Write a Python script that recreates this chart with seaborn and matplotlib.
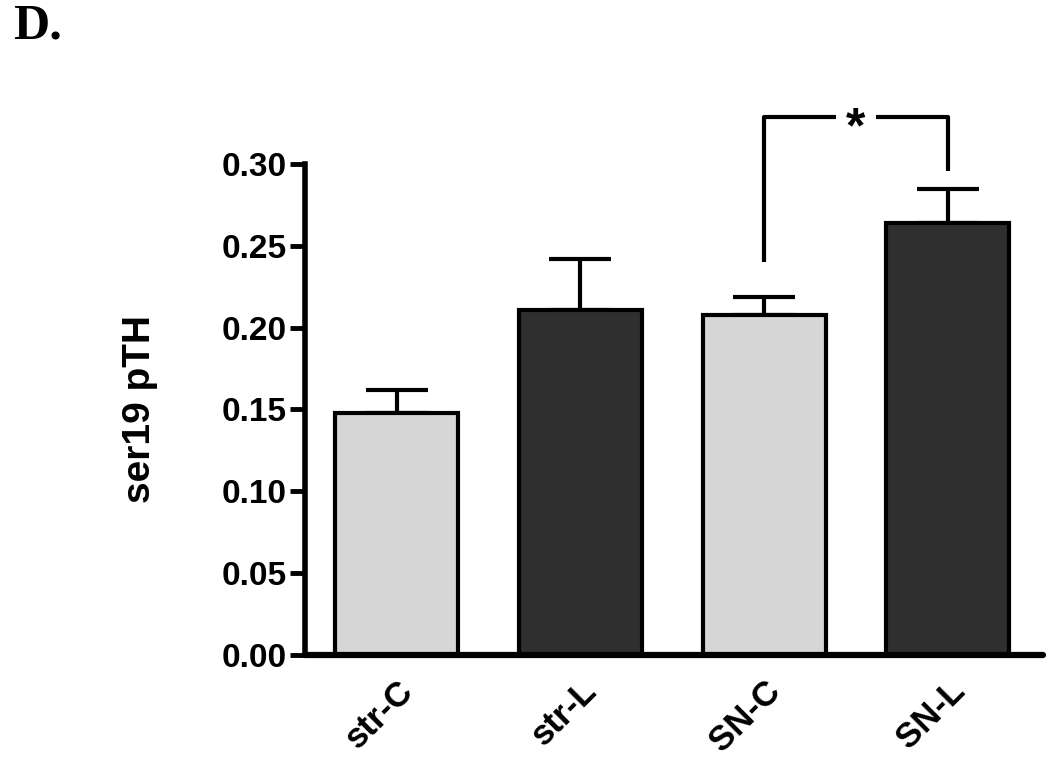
import numpy as np
import pandas as pd
import seaborn as sns
import matplotlib.pyplot as plt

# values (mean + one-sided SEM)
groups = ["str-C", "str-L", "SN-C", "SN-L"]
means = [0.148, 0.211, 0.208, 0.264]
sems = [0.014, 0.031, 0.011, 0.021]
bar_colors = ["#d6d6d6", "#2f2f2f", "#d6d6d6", "#2f2f2f"]
yticks = [0.00, 0.05, 0.10, 0.15, 0.20, 0.25, 0.30]
# significance bracket SN-C vs SN-L
sig_pair = (2, 3)
sig_level = 0.329
sig_feet = (0.240, 0.296)

sns.set_style("white")
plt.rcParams["font.family"] = ["Liberation Sans", "DejaVu Sans"]
plt.rcParams["font.weight"] = "bold"
for k in ["text.color", "axes.labelcolor", "xtick.color", "ytick.color", "axes.edgecolor"]:
    plt.rcParams[k] = "black"

df = pd.DataFrame({"group": groups, "value": means})

fig = plt.figure(figsize=(10.5, 7.6), dpi=100)
ax = fig.add_axes([0.2905, 0.1382, 0.703, 0.646])

sns.barplot(data=df, x="group", y="value", hue="group", palette=bar_colors,
            order=groups, width=0.67, edgecolor="black", linewidth=3.0,
            legend=False, ax=ax, errorbar=None, zorder=2)

xs = np.arange(len(groups))
ax.errorbar(xs, means, yerr=[np.zeros(len(sems)), sems], fmt="none",
            ecolor="black", elinewidth=3.0, capsize=22, capthick=3.0, zorder=1)

ax.set_xlim(-0.5, 3.52)
ax.set_ylim(0, 0.30)
ax.set_yticks(yticks)
ax.set_yticklabels([f"{t:.2f}" for t in yticks], fontsize=24, fontweight="bold")
ax.set_xticks(xs)
ax.set_xticklabels(groups, fontsize=25, fontweight="bold", rotation=45,
                   ha="right", va="top", rotation_mode="anchor")
ax.tick_params(axis="x", length=0, pad=14)
ax.tick_params(axis="y", length=11, width=3.5, pad=2, direction="out", left=True)

for s in ["top", "right"]:
    ax.spines[s].set_visible(False)
ax.spines["left"].set_linewidth(4)
ax.spines["bottom"].set_linewidth(4.5)
ax.spines["bottom"].set_capstyle("round")

ax.set_ylabel("ser19 pTH", fontsize=28, fontweight="bold", labelpad=46)
ax.set_xlabel("")

# bracket with star gap
x0, x1 = sig_pair
lw = 3.0
xm = (x0 + x1) / 2
gap = 0.11
ax.plot([x0, x0, xm - gap], [sig_feet[0], sig_level, sig_level],
        color="black", lw=lw, clip_on=False, solid_capstyle="butt")
ax.plot([xm + gap, x1, x1], [sig_level, sig_level, sig_feet[1]],
        color="black", lw=lw, clip_on=False, solid_capstyle="butt")
ax.text(xm, sig_level - 0.008, "*", ha="center", va="center", fontsize=36,
        fontweight="bold", clip_on=False)

fig.text(0.012, 0.995, "D.", fontsize=36, fontweight="bold", va="top", ha="left",
         family=["Liberation Serif", "DejaVu Serif"])

fig.savefig("out.png", dpi=100)
